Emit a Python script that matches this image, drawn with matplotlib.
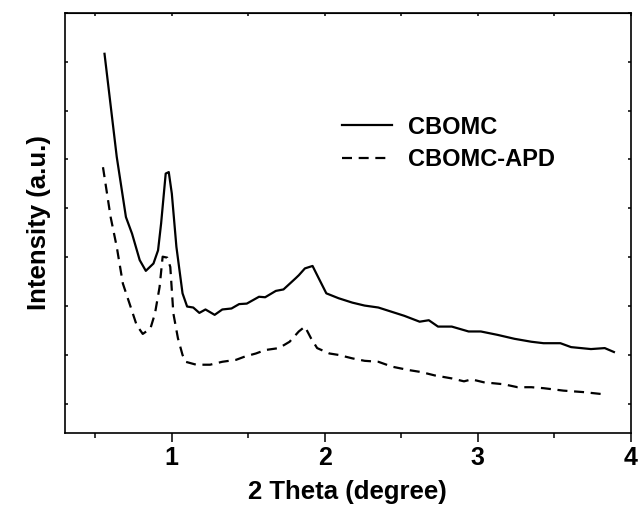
import matplotlib
matplotlib.use("Agg")
import matplotlib.pyplot as plt
from matplotlib.ticker import MultipleLocator

# 2 theta (degree) and intensity (a.u.)
cbomc_x = [0.56, 0.64, 0.70, 0.74, 0.79, 0.83, 0.88, 0.91, 0.93, 0.96, 0.98,
           1.00, 1.03, 1.07, 1.10, 1.14, 1.18, 1.22, 1.28, 1.33, 1.39, 1.44,
           1.49, 1.57, 1.61, 1.68, 1.73, 1.81, 1.83, 1.87, 1.92, 1.96, 2.01,
           2.09, 2.18, 2.26, 2.35, 2.44, 2.52, 2.62, 2.68, 2.74, 2.83, 2.94,
           3.02, 3.13, 3.24, 3.35, 3.43, 3.54, 3.61, 3.74, 3.83, 3.89]
cbomc_y = [7.16, 5.05, 3.82, 3.48, 2.94, 2.72, 2.87, 3.14, 3.69, 4.71, 4.74,
           4.30, 3.21, 2.26, 1.99, 1.97, 1.86, 1.93, 1.82, 1.93, 1.95, 2.04,
           2.05, 2.19, 2.18, 2.31, 2.34, 2.57, 2.63, 2.77, 2.82, 2.57, 2.26,
           2.16, 2.07, 2.01, 1.97, 1.88, 1.80, 1.68, 1.71, 1.58, 1.58, 1.48,
           1.48, 1.41, 1.33, 1.27, 1.24, 1.24, 1.16, 1.12, 1.14, 1.06]

apd_x = [0.55, 0.60, 0.64, 0.68, 0.73, 0.77, 0.81, 0.86, 0.89, 0.92, 0.94,
         0.97, 0.99, 1.01, 1.04, 1.07, 1.09, 1.16, 1.25, 1.33, 1.42, 1.48,
         1.55, 1.61, 1.70, 1.77, 1.83, 1.87, 1.91, 1.95, 2.03, 2.09, 2.18,
         2.26, 2.35, 2.44, 2.55, 2.63, 2.72, 2.83, 2.91, 2.96, 3.04, 3.17,
         3.26, 3.35, 3.43, 3.56, 3.69, 3.81]
apd_y = [4.84, 3.82, 3.21, 2.46, 1.99, 1.61, 1.43, 1.54, 1.85, 2.39, 3.01,
         2.99, 2.80, 1.85, 1.34, 1.00, 0.86, 0.80, 0.80, 0.86, 0.90, 0.97,
         1.03, 1.10, 1.14, 1.27, 1.48, 1.58, 1.34, 1.14, 1.03, 1.00, 0.93,
         0.88, 0.86, 0.76, 0.69, 0.65, 0.58, 0.52, 0.46, 0.50, 0.44, 0.40,
         0.34, 0.34, 0.32, 0.27, 0.24, 0.20]

labels = ["CBOMC", "CBOMC-APD"]

plt.rcParams['font.family'] = ['Liberation Sans', 'DejaVu Sans']
plt.rcParams['font.weight'] = 'bold'

fig = plt.figure(figsize=(6.41, 5.09), dpi=100)
ax = fig.add_axes([0.101, 0.149, 0.883, 0.826])

ax.plot(cbomc_x, cbomc_y, color='black', lw=1.6, label=labels[0])
ax.plot(apd_x, apd_y, color='black', lw=1.6, dashes=(4.5, 3), label=labels[1])

ax.set_xlim(0.3, 4.0)
ax.set_ylim(-0.6, 8.0)

ax.xaxis.set_major_locator(MultipleLocator(1))
ax.xaxis.set_minor_locator(MultipleLocator(0.5))
ax.yaxis.set_major_locator(MultipleLocator(1))
ax.set_yticklabels([])
ax.tick_params(axis='x', which='major', direction='out', length=6.5, width=1.1,
               labelsize=18, pad=3)
ax.tick_params(axis='x', which='minor', direction='out', length=3.5, width=1.1)
ax.tick_params(axis='y', which='major', direction='in', length=2, width=1.1,
               left=True, right=True, labelleft=False)
for sp in ax.spines.values():
    sp.set_linewidth(1.2)

# small inward ticks along the top edge
top = ax.secondary_xaxis('top')
top.xaxis.set_major_locator(MultipleLocator(0.5))
top.tick_params(direction='in', length=2, width=1.1, labeltop=False)

ax.set_xlabel("2 Theta (degree)", fontsize=18.5, fontweight='bold', labelpad=7)
ax.set_ylabel("Intensity (a.u.)", fontsize=18.5, fontweight='bold', labelpad=10)

leg = ax.legend(loc='center left', bbox_to_anchor=(0.49, 0.689), frameon=False,
                fontsize=17, handlelength=2.1, handletextpad=0.68,
                labelspacing=0.4, borderaxespad=0, borderpad=0)

fig.savefig("out.png", dpi=100)
